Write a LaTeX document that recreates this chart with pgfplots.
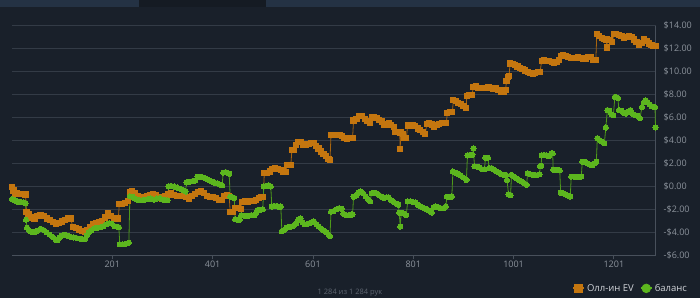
\documentclass[border=0pt]{standalone}
\usepackage{pgfplots}
\pgfplotsset{compat=1.18}
\usepackage{fontspec}
\setmainfont{Open Sans}
\definecolor{bg}{HTML}{19202A}
\definecolor{band}{HTML}{243244}
\definecolor{banddark}{HTML}{151B23}
\definecolor{gridc}{HTML}{333B46}
\definecolor{axisc}{HTML}{48505B}
\definecolor{tickc}{HTML}{8C939C}
\definecolor{evc}{HTML}{C4760F}
\definecolor{evl}{HTML}{A8650F}
\definecolor{balc}{HTML}{5CB61E}
\definecolor{ball}{HTML}{4E9A1A}
\definecolor{legc}{HTML}{D0D3D8}
\definecolor{footc}{HTML}{5E6570}
\begin{document}
\begin{tikzpicture}[x=1pt,y=1pt]
\clip (0,0) rectangle (700,298);
\fill[bg] (0,0) rectangle (700,298);
\fill[band] (0,291) rectangle (139,298);
\fill[banddark] (139,291) rectangle (266,298);
\fill[band] (266,291) rectangle (700,298);
\node[anchor=south, inner sep=0pt, text=footc, font=\fontsize{7.5}{8.5}\selectfont] at (350,1.5) {1 284 из 1 284 рук};
\begin{axis}[
  at={(12pt,42.7pt)}, anchor=south west,
  scale only axis, width=643.5pt, height=229.6pt,
  xmin=1, xmax=1284, ymin=-6, ymax=14,
  axis x line*=bottom, axis y line*=right,
  axis line style={-, draw=axisc, line width=0.8pt},
  xtick={201,401,601,801,1001,1201},
  xticklabels={201,401,601,801,1001,1201},
  ytick={-6,-4,-2,0,2,4,6,8,10,12,14},
  yticklabels={-\$6.00,-\$4.00,-\$2.00,\$0.00,\$2.00,\$4.00,\$6.00,\$8.00,\$10.00,\$12.00,\$14.00},
  ymajorgrids, major grid style={draw=gridc, line width=1pt},
  tick align=outside,
  xtick style={draw=axisc, line width=0.8pt},
  major tick length=4pt,
  ytick style={draw=none},
  /pgf/number format/assume math mode=true,
  tick label style={text=tickc, font=\fontsize{9}{10}\selectfont},
  yticklabel style={anchor=west, inner sep=0pt, xshift=4pt},
  xticklabel style={inner sep=0pt, yshift=-1pt},
  clip=false,
  legend columns=2,
  legend style={at={(1.057,-0.144)}, anchor=east, draw=none, fill=none,
    text=legc, font=\fontsize{9.5}{11}\selectfont,
    /tikz/every even column/.append style={column sep=4pt}},
  legend cell align=left,
]
\addplot[draw=evl, line width=0.8pt, mark=square*, mark size=2.6pt,
  mark options={fill=evc, draw=evc, line width=0pt},
  legend image code/.code={\draw[evc, line width=2pt] (0pt,0pt)--(11pt,0pt); \fill[evc] (1.5pt,-4pt) rectangle (9.5pt,4pt);}]
coordinates {
(1,-0.05) (4,-0.35) (7,-0.55) (10,-0.62) (16,-0.65) (22,-0.68) (28,-0.7)
(30,-2.2) (34,-2.4) (40,-2.7) (46,-2.8) (52,-2.6) (58,-2.5) (64,-2.6) (70,-2.8) (76,-2.95) (82,-3.1) (88,-3.3) (94,-3.2) (100,-3.05) (106,-2.95) (112,-2.75) (118,-2.8)
(122,-3.5) (128,-3.65) (134,-3.75) (140,-3.85) (146,-4.0) (150,-3.8) (156,-3.55) (162,-3.25) (168,-3.2) (174,-3.15) (180,-3.0) (186,-2.7) (192,-2.35) (198,-2.55) (204,-2.75) (210,-2.85) (213,-2.8)
(215,-1.5) (221,-1.5) (227,-1.45) (233,-1.3)
(236,-0.5) (241,-0.4) (246,-0.55) (252,-0.85) (258,-1.15) (264,-0.95) (270,-0.85) (276,-0.75) (282,-0.65) (288,-0.75) (294,-0.95) (300,-1.1) (306,-0.85) (312,-0.7) (318,-0.6) (324,-0.75) (330,-0.8) (336,-0.85) (342,-0.85) (348,-0.95) (354,-1.1) (360,-0.85) (366,-0.65) (372,-0.5) (378,-0.45) (384,-0.6) (390,-0.85) (396,-0.9) (402,-0.9) (408,-1.0) (414,-1.15) (419,-1.2) (424,-0.85) (430,-0.75) (434,-0.8)
(436,-2.2) (442,-2.2) (446,-1.9) (452,-1.9) (457,-1.95)
(459,-1.35) (465,-1.3) (471,-1.35) (477,-1.3) (483,-1.25) (488,-1.15) (493,-1.0) (498,-0.95) (502,-0.95)
(504,1.15) (510,1.2) (516,1.3) (520,1.55) (526,1.6) (532,1.55) (537,1.45) (542,1.3) (547,1.25)
(549,1.85) (554,1.85) (557,1.9)
(559,3.15) (564,3.2) (568,3.6) (572,3.85) (577,3.85) (582,3.65) (587,3.6) (592,3.7) (597,3.8) (602,3.75) (607,3.5) (612,3.3) (617,3.05) (622,2.85) (627,2.65) (632,2.4) (635,2.3)
(637,4.45) (642,4.5) (648,4.5) (654,4.45) (659,4.4) (663,4.2) (669,4.15) (675,4.2) (680,4.2)
(682,5.75) (688,5.85) (694,6.15) (699,6.1) (704,5.9) (709,5.7) (714,5.5) (718,6.05) (723,6.0) (728,5.95) (733,5.8) (738,5.65) (743,5.4) (748,5.35) (752,5.5) (757,5.35) (762,5.2)
(765,4.75) (770,4.75) (774,4.7) (775,3.25) (776,4.7) (780,4.6) (782,4.25) (787,4.2)
(790,5.3) (795,5.35) (800,5.3) (805,5.25) (810,5.05) (815,4.9) (820,4.75) (825,4.6)
(828,5.45) (833,5.5) (838,5.4) (843,5.2) (848,5.35) (853,5.45) (858,5.5) (863,5.5) (867,5.55)
(869,6.4) (874,6.5) (879,6.5)
(881,7.5) (886,7.45) (891,7.3) (896,7.15) (901,7.0) (906,6.8)
(908,7.9) (913,7.95) (918,7.95)
(921,8.65) (926,8.7) (931,8.6) (936,8.55) (941,8.6) (946,8.6) (951,8.65) (956,8.55) (961,8.5) (966,8.6) (971,8.4) (976,8.25) (981,8.2) (985,8.4)
(987,9.2) (990,9.5) (992,9.6)
(994,10.7) (999,10.65) (1004,10.55) (1009,10.45) (1014,10.35) (1019,10.25) (1024,10.1) (1029,10.0) (1034,9.9) (1039,9.8) (1044,9.85) (1049,9.95) (1054,10.0)
(1057,10.95) (1062,11.0) (1067,10.95) (1072,10.9) (1077,10.85) (1082,10.8) (1087,10.85) (1092,11.0)
(1095,11.35) (1100,11.4) (1105,11.35) (1110,11.3) (1115,11.2) (1120,11.2) (1125,11.2) (1130,11.25) (1135,11.2) (1140,11.1) (1145,11.15) (1150,11.3) (1155,11.3) (1160,11.0) (1165,11.0)
(1167,13.3) (1172,13.1) (1177,12.9) (1182,12.85) (1186,12.8) (1187,12.1) (1188,12.8) (1193,12.75) (1198,12.55)
(1201,13.3) (1206,13.3) (1211,13.2) (1216,13.1) (1221,12.95) (1226,13.05) (1231,13.1) (1236,13.0) (1241,12.8) (1246,12.6) (1251,12.3) (1256,12.5) (1261,12.85) (1266,12.65) (1271,12.45) (1276,12.3) (1280,12.25) (1284,12.2)
};
\addlegendentry{Олл-ин EV}
\addplot[draw=ball, line width=0.8pt, mark=*, mark size=2.6pt,
  mark options={fill=balc, draw=balc, line width=0pt},
  legend image code/.code={\draw[balc, line width=2pt] (0pt,0pt)--(11pt,0pt); \fill[balc] (5.5pt,0pt) circle (4.3pt);}]
coordinates {
(1,-1.1) (4,-1.15) (8,-1.25) (12,-1.35) (18,-1.35) (24,-1.4) (28,-1.45)
(29,-2.9) (31,-3.6) (35,-3.85) (40,-3.95) (46,-4.0) (52,-3.85) (58,-3.7) (64,-3.8) (70,-4.0) (76,-4.2) (82,-4.4) (88,-4.65) (92,-4.7) (96,-4.45) (100,-4.3) (106,-4.2) (112,-4.3) (118,-4.4) (124,-4.45) (130,-4.5) (136,-4.55) (142,-4.6) (146,-4.6) (150,-4.3) (154,-4.0) (160,-3.8) (166,-3.65) (172,-3.6) (178,-3.55) (184,-3.45) (190,-3.3) (195,-3.2) (200,-3.25) (205,-3.45) (210,-3.5) (214,-3.55)
(216,-5.05) (222,-5.05) (228,-5.0) (234,-4.9)
(236,-0.85) (241,-0.9) (246,-1.05) (251,-1.15) (256,-1.2) (261,-1.2) (266,-1.15) (272,-1.1) (278,-1.05) (284,-1.15) (290,-1.05) (296,-1.0) (302,-1.15) (307,-1.2) (311,-1.2)
(313,0.0) (318,0.05) (324,0.0) (330,-0.1) (336,-0.2) (342,-0.3) (347,-0.45)
(349,0.35) (354,0.4) (360,0.45) (366,0.5) (371,0.85) (376,0.85) (381,0.8) (386,0.7) (391,0.6) (396,0.5) (401,0.4) (406,0.3) (411,0.25) (416,0.15) (420,0.1)
(422,1.2) (427,1.25) (432,1.15) (434,1.1)
(436,-0.9) (441,-0.95) (444,-1.0)
(446,-2.85) (450,-2.9) (455,-2.9)
(458,-2.5) (463,-2.55) (468,-2.6) (473,-2.55) (478,-2.5) (484,-2.5) (488,-2.3) (491,-2.05) (496,-2.05) (501,-2.0)
(503,0.0) (508,0.05) (513,0.1) (517,0.0)
(519,-1.75) (524,-1.7) (529,-1.7) (534,-1.8) (537,-1.75)
(539,-3.9) (543,-3.8) (548,-3.6) (553,-3.5) (558,-3.5) (563,-3.4) (568,-3.2) (572,-2.9) (576,-2.8) (580,-3.1) (584,-3.3) (589,-3.3) (594,-3.2) (599,-3.1) (603,-3.05) (608,-3.3) (613,-3.5) (618,-3.7) (623,-3.85) (628,-4.0) (633,-4.25) (635,-4.35)
(637,-2.2) (642,-2.15) (648,-2.0) (653,-1.9) (658,-1.95) (662,-2.4) (667,-2.5) (672,-2.5) (677,-2.45) (680,-2.45)
(682,-0.9) (687,-0.8) (692,-0.55) (696,-0.45) (701,-0.6) (706,-0.85) (711,-1.1) (715,-1.3) (718,-0.6) (723,-0.55) (728,-0.6) (733,-0.75) (738,-0.9) (743,-1.0) (748,-0.95) (752,-0.95) (757,-1.2) (762,-1.35) (767,-1.5) (771,-1.6)
(773,-2.3) (775,-3.5) (777,-2.3) (782,-2.35) (787,-2.5)
(790,-1.3) (795,-1.3) (800,-1.35) (805,-1.4) (810,-1.6) (815,-1.75) (820,-1.85) (825,-1.95) (830,-2.05) (835,-2.15) (838,-2.27) (842,-1.8) (846,-1.75) (851,-1.8) (856,-1.9) (861,-1.9) (866,-1.75)
(868,-0.9) (873,-0.9) (878,-0.88)
(880,1.3) (885,1.2) (890,1.1) (895,0.95) (900,0.8) (905,0.65) (907,0.56)
(909,2.7) (914,2.75) (919,2.75) (921,3.3) (923,1.75) (928,1.72) (933,1.65) (938,1.5) (943,1.5)
(945,2.5) (950,2.5)
(952,1.6) (957,1.6) (962,1.45) (967,1.3) (972,1.2) (977,1.05) (982,1.0) (986,1.0)
(988,0.55) (991,-0.7) (995,-0.75)
(997,1.0) (1002,0.85) (1007,0.7) (1012,0.55) (1017,0.45) (1022,0.3) (1027,0.13)
(1029,1.15) (1034,1.05) (1039,1.0) (1044,1.0) (1049,1.0) (1053,1.05)
(1054,1.78) (1056,1.8)
(1057,2.7) (1062,2.75) (1067,2.7) (1072,2.65) (1077,2.9) (1079,2.88)
(1080,1.45) (1085,1.45) (1090,1.4) (1093,1.4)
(1095,-0.55) (1100,-0.6) (1105,-0.7) (1110,-0.8) (1114,-0.88)
(1116,0.85) (1121,0.85) (1126,0.8) (1131,0.85) (1136,0.85)
(1138,2.15) (1143,2.15) (1148,2.0) (1153,1.9) (1158,1.85) (1163,2.0) (1166,2.15)
(1168,4.2) (1172,4.05) (1177,3.9) (1182,3.75) (1185,5.13)
(1188,6.65) (1192,6.6) (1196,6.3) (1200,6.2) (1203,7.8) (1206,7.75) (1209,7.7) (1211,6.65) (1216,6.6) (1220,6.4) (1225,6.35) (1230,6.5) (1234,6.65) (1239,6.3) (1244,6.2) (1249,6.15) (1253,5.95)
(1257,6.9) (1261,7.35) (1264,7.5) (1268,7.35) (1272,7.15) (1276,7.0) (1281,6.92) (1283,6.9) (1284,5.13)
};
\addlegendentry{баланс}
\end{axis}
\end{tikzpicture}
\end{document}
